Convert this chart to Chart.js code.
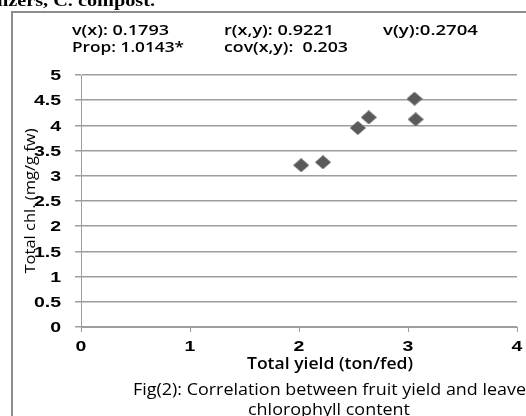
<!DOCTYPE html>
<html>
<head>
<meta charset="utf-8">
<script src="https://cdn.jsdelivr.net/npm/chart.js@4/dist/chart.umd.min.js"></script>
<style>
  html, body { margin: 0; padding: 0; background: #fff; overflow: hidden; }
  #wrap { width: 526px; height: 416px; }
</style>
</head>
<body>
<div id="wrap"><canvas id="corrChart" width="526" height="416"></canvas></div>
<script>
// values
const yieldTon = [2.02, 2.22, 2.54, 2.64, 3.06, 3.07];
const totalChl = [3.21, 3.27, 3.95, 4.16, 4.53, 4.12];

const statsRow1 = ["v(x): 0.1793", "r(x,y): 0.9221", "v(y):0.2704"];
const statsRow2 = ["Prop: 1.0143*", "cov(x,y):  0.203"];
const xTitle = "Total yield (ton/fed)";
const yTitle = "Total chl. (mg/g fw)";
const caption1 = "Fig(2): Correlation between fruit yield and leaves";
const caption2 = "chlorophyll content";
const headText = "lizers, C. compost.";

const gridGray = "#9d9d9d";
const tickFont = "bold 15px 'Liberation Sans'";
const tickStretch = 1.3; // the source picture is a bit stretched sideways

// diamond marker, a little wider than tall like in the figure
const diamond = document.createElement("canvas");
diamond.width = 16;
diamond.height = 14;
(function () {
  const d = diamond.getContext("2d");
  d.fillStyle = "#5a5a5a";
  d.beginPath();
  d.moveTo(8, 0);
  d.lineTo(16, 7);
  d.lineTo(8, 14);
  d.lineTo(0, 7);
  d.closePath();
  d.fill();
})();

// draw text squeezed/stretched to a given width
function fitText(ctx, text, x, y, width, align) {
  const w = ctx.measureText(text).width;
  stretchText(ctx, text, x, y, width / w, align);
}

function stretchText(ctx, text, x, y, sx, align) {
  ctx.save();
  ctx.translate(x, y);
  ctx.scale(sx, 1);
  ctx.textAlign = align;
  ctx.fillText(text, 0, 0);
  ctx.restore();
}

const extras = {
  id: "extras",
  beforeDraw(chart) {
    const ctx = chart.ctx;
    ctx.save();
    ctx.strokeStyle = "#8c8c8c";
    ctx.lineWidth = 2;
    ctx.strokeRect(12, 12, 530, 420);
    ctx.restore();
  },
  afterDraw(chart) {
    const ctx = chart.ctx;
    const xs = chart.scales.x;
    const ys = chart.scales.y;
    ctx.save();
    ctx.fillStyle = "#000";
    ctx.textBaseline = "middle";

    // tick labels
    ctx.font = tickFont;
    ys.ticks.forEach((t) => {
      stretchText(ctx, String(t.value), 61, ys.getPixelForValue(t.value) + 1, tickStretch, "right");
    });
    xs.ticks.forEach((t) => {
      stretchText(ctx, String(t.value), xs.getPixelForValue(t.value), 347, tickStretch, "center");
    });

    ctx.font = "bold 16px 'Liberation Serif'";
    fitText(ctx, headText, -3, 2, 158, "left");

    // stats box text
    ctx.font = "600 15px 'Open Sans'";
    fitText(ctx, statsRow1[0], 72, 31, 97, "left");
    fitText(ctx, statsRow1[1], 224, 31, 110, "left");
    fitText(ctx, statsRow1[2], 383, 31, 95, "left");
    fitText(ctx, statsRow2[0], 72, 48, 112, "left");
    fitText(ctx, statsRow2[1], 224, 48, 124, "left");

    ctx.font = "600 16px 'Open Sans'";
    fitText(ctx, xTitle, 330, 364, 166, "center");

    // caption: "C" of Correlation just left of x=200, "leave" reaches the right edge
    ctx.font = "16px 'Open Sans'";
    const tail = "orrelation between fruit yield and leave";
    const capScale = 328 / ctx.measureText(tail).width;
    const full = ctx.measureText(caption1.slice(0, -1)).width * capScale;
    stretchText(ctx, caption1, 526 - full, 390, capScale, "left");
    fitText(ctx, caption2, 329, 410, 162, "center");

    ctx.translate(31, 201);
    ctx.rotate(-Math.PI / 2);
    ctx.font = "15px 'Open Sans'";
    fitText(ctx, yTitle, 0, 0, 145, "center");
    ctx.restore();
  }
};

new Chart(document.getElementById("corrChart"), {
  type: "scatter",
  data: {
    datasets: [{
      data: yieldTon.map((x, i) => ({ x: x, y: totalChl[i] })),
      pointStyle: diamond,
      pointRadius: 8,
      pointHoverRadius: 8
    }]
  },
  options: {
    responsive: false,
    animation: false,
    devicePixelRatio: 1,
    layout: { padding: { left: 0, top: 75, right: 7, bottom: 0 } },
    plugins: { legend: { display: false }, tooltip: { enabled: false } },
    scales: {
      x: {
        type: "linear",
        min: 0,
        max: 4,
        afterFit: (s) => { s.height = 89; },
        ticks: { stepSize: 1, display: false },
        grid: { drawOnChartArea: false, drawTicks: true, tickLength: 5, color: gridGray },
        border: { color: gridGray, width: 1 }
      },
      y: {
        min: 0,
        max: 5,
        afterFit: (s) => { s.width = 81; },
        ticks: { stepSize: 0.5, display: false },
        grid: { color: gridGray, lineWidth: 1.5, tickLength: 6 },
        border: { color: gridGray, width: 1 }
      }
    }
  },
  plugins: [extras]
});
</script>
</body>
</html>
